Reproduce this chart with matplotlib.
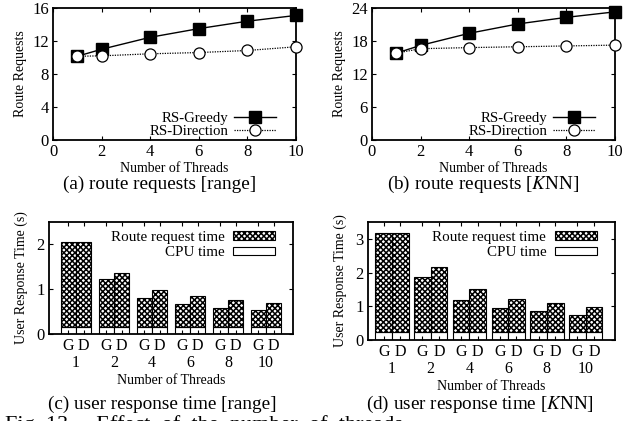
import matplotlib
matplotlib.use("Agg")
import matplotlib.pyplot as plt
import numpy as np
from matplotlib.patches import Patch

plt.rcParams['font.family'] = ['Liberation Serif', 'DejaVu Serif']
plt.rcParams['mathtext.fontset'] = 'stix'
plt.rcParams['hatch.linewidth'] = 1.1

# ---- data ----
threads = [1, 2, 4, 6, 8, 10]
range_greedy = [10.15, 11.0, 12.45, 13.5, 14.4, 15.1]
range_direction = [10.15, 10.2, 10.45, 10.6, 10.85, 11.3]
knn_greedy = [15.8, 17.2, 19.4, 21.1, 22.3, 23.3]
knn_direction = [15.8, 16.6, 16.8, 16.95, 17.1, 17.25]

group_labels = ['1', '2', '4', '6', '8', '10']
range_cpu = 0.15
range_total_G = [2.06, 1.22, 0.81, 0.66, 0.58, 0.53]
range_total_D = [2.06, 1.37, 0.99, 0.84, 0.75, 0.70]
knn_cpu = 0.23
knn_total_G = [3.18, 1.86, 1.19, 0.955, 0.855, 0.75]
knn_total_D = [3.18, 2.18, 1.52, 1.23, 1.10, 0.99]

W, H = 626, 421
fig = plt.figure(figsize=(W / 100, H / 100), dpi=100)
TICK = 12


def ax_px(l, t, r, b):
    return fig.add_axes([l / W, 1 - b / H, (r - l) / W, (b - t) / H])


def style(ax):
    for s in ax.spines.values():
        s.set_linewidth(1.3)
    ax.tick_params(direction='in', length=3, width=0.8, labelsize=TICK,
                   top=True, right=True, pad=3)


def line_panel(ax, g, d, ymax, yt):
    ax.plot(threads, g, color='black', lw=1.0, marker='s', ms=8.5,
            mfc='black', mec='black', label='RS-Greedy', clip_on=False,
            zorder=3)
    ax.plot(threads, d, color='black', lw=0.9, ls=(0, (1, 1)), marker='o',
            ms=8, mfc='white', mec='black', mew=0.9, label='RS-Direction',
            clip_on=False, zorder=3)
    ax.set_xlim(0, 10)
    ax.set_ylim(0, ymax)
    ax.set_xticks([0, 2, 4, 6, 8, 10])
    ax.set_yticks(yt)
    style(ax)
    ax.set_xlabel('Number of Threads', fontsize=10, labelpad=1)
    ax.set_ylabel('Route Requests', fontsize=10, labelpad=4)
    ax.legend(loc='lower right', frameon=False, markerfirst=False,
              fontsize=10.6, handlelength=2.8, handletextpad=0.4,
              labelspacing=0.0, borderaxespad=0.0,
              bbox_to_anchor=(0.94, -0.03))


def bar_panel(ax, cpu, tg, td, ymax, yt, xlim, bw):
    x = np.arange(1, len(group_labels) + 1)
    xg = x - bw / 2
    xd = x + bw / 2
    for xs, tot in ((xg, tg), (xd, td)):
        tot = np.array(tot)
        ax.bar(xs, [cpu] * len(xs), width=bw, color='white',
               edgecolor='black', lw=0.8)
        ax.bar(xs, tot - cpu, bottom=cpu, width=bw, color='white',
               edgecolor='black', hatch='xxxxxx', lw=0.8)
    ax.set_xlim(*xlim)
    ax.set_ylim(0, ymax)
    ax.set_yticks(yt)
    ax.set_xticks(np.concatenate([xg, xd]))
    ax.set_xticklabels(['G'] * len(xg) + ['D'] * len(xd))
    ax.set_xticks(x, minor=True)
    ax.set_xticklabels(group_labels, minor=True)
    style(ax)
    ax.tick_params(axis='x', which='minor', length=0, pad=15, labelsize=11.5)
    ax.tick_params(axis='x', which='major', pad=3, labelsize=11.5)
    ax.set_xlabel('Number of Threads', fontsize=10, labelpad=2)
    ax.set_ylabel('User Response Time (s)', fontsize=10, labelpad=6)
    handles = [Patch(facecolor='white', edgecolor='black', hatch='xxxxxx', lw=0.8),
               Patch(facecolor='white', edgecolor='black', lw=0.8)]
    ax.legend(handles, ['Route request time', 'CPU time'], loc='upper right',
              frameon=False, markerfirst=False, fontsize=10.8,
              handlelength=2.8, handleheight=0.5, handletextpad=0.6,
              labelspacing=0.15, borderaxespad=0.2,
              bbox_to_anchor=(0.965, 1.0))


ax_a = ax_px(53, 8, 296, 140)
line_panel(ax_a, range_greedy, range_direction, 16, [0, 4, 8, 12, 16])
ax_b = ax_px(372, 8, 615, 140)
line_panel(ax_b, knn_greedy, knn_direction, 24, [0, 6, 12, 18, 24])

ax_c = ax_px(49, 222, 293, 334)
bar_panel(ax_c, range_cpu, range_total_G, range_total_D, 2.5, [0, 1, 2],
          (0.29, 6.71), 0.4)
ax_d = ax_px(368, 222, 615, 340)
bar_panel(ax_d, knn_cpu, knn_total_G, knn_total_D, 3.5, [0, 1, 2, 3],
          (0.38, 6.76), 0.43)

cap = 13.8
fig.text(160 / W, 1 - 184 / H, '(a) route requests [range]', ha='center',
         va='center', fontsize=cap)
fig.text(483 / W, 1 - 184 / H, r'(b) route requests [$K$NN]', ha='center',
         va='center', fontsize=cap)
fig.text(162 / W, 1 - 404 / H, '(c) user response time [range]', ha='center',
         va='center', fontsize=cap)
fig.text(480 / W, 1 - 404 / H, r'(d) user response time [$K$NN]', ha='center',
         va='center', fontsize=cap)
fig.text(5 / W, 1 - 425 / H, 'Fig. 13.    Effect  of  the  number  of  threads',
         ha='left', va='center', fontsize=16)

fig.savefig('out.png', dpi=100)
